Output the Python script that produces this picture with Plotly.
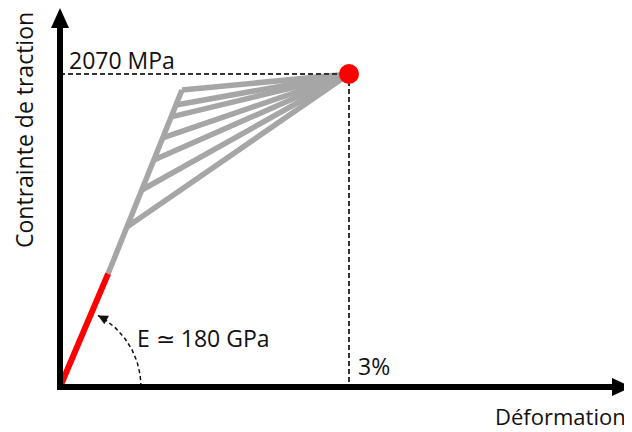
import numpy as np
import plotly.graph_objects as go

# ---- data (strain in %, stress in MPa) ----
elastic_strain = [0.0, 0.5]
elastic_stress = [0.0, 750.0]
# points on the gray loading path where fibres branch off (top vertex first)
branch_strain = [1.266, 1.204, 1.154, 1.066, 0.974, 0.849, 0.694]
branch_stress = [1964.0, 1865.0, 1786.0, 1647.0, 1501.0, 1303.0, 1058.0]
rupture_strain = 3.0
rupture_stress = 2070.0
modulus_label = "E \u2243 180 GPa"
stress_label = "2070 MPa"
strain_label = "3%"
x_title = "Déformation"
y_title = "Contrainte de traction"

# ---- geometry of the canvas ----
PAGE_MARGIN = 8                  # default body margin of the html page
W, H = 632 - PAGE_MARGIN, 432 - PAGE_MARGIN
ox_px, oy_px = 60 - PAGE_MARGIN, 387 - PAGE_MARGIN   # origin, in figure pixels
px_per_pct = 289 / 3.0
px_per_mpa = 313 / 2070.0
xr = [-ox_px / px_per_pct, (W - ox_px) / px_per_pct]
yr = [-(H - oy_px) / px_per_mpa, oy_px / px_per_mpa]

def dx(p):
    return p / px_per_pct

def dy(p):
    return p / px_per_mpa

FONT = "Open Sans"
GRAY = "#a6a6a6"
fig = go.Figure()

# gray loading path: from end of elastic part up through branch points to vertex
main_x = [elastic_strain[-1]] + branch_strain[::-1]
main_y = [elastic_stress[-1]] + branch_stress[::-1]
fig.add_trace(go.Scatter(x=main_x, y=main_y, mode="lines",
                         line=dict(color=GRAY, width=5.5), hoverinfo="skip"))
# branches to the rupture point
bx, by = [], []
for sx, sy in zip(branch_strain, branch_stress):
    bx += [sx, rupture_strain, None]
    by += [sy, rupture_stress, None]
fig.add_trace(go.Scatter(x=bx, y=by, mode="lines",
                         line=dict(color=GRAY, width=5.5), hoverinfo="skip"))

# dashed guides
fig.add_trace(go.Scatter(x=[0, rupture_strain, rupture_strain],
                         y=[rupture_stress, rupture_stress, 0], mode="lines",
                         line=dict(color="#333333", width=2, dash="5px,3px"),
                         hoverinfo="skip"))

# elastic part in red
fig.add_trace(go.Scatter(x=elastic_strain, y=elastic_stress, mode="lines",
                         line=dict(color="#ff0000", width=6), hoverinfo="skip"))

# rupture point
fig.add_trace(go.Scatter(x=[rupture_strain], y=[rupture_stress], mode="markers",
                         marker=dict(color="#ff0000", size=20), hoverinfo="skip"))

# dashed arc for the modulus
r_px = 81
th = np.radians(np.linspace(0, 62, 40))
fig.add_trace(go.Scatter(x=dx(r_px * np.cos(th)), y=dy(r_px * np.sin(th)), mode="lines",
                         line=dict(color="#111111", width=1.5, dash="4px,3px"),
                         hoverinfo="skip"))
te = th[-1]
fig.add_annotation(x=dx(r_px * np.cos(te)), y=dy(r_px * np.sin(te)), xref="x", yref="y",
                   text="", showarrow=True, arrowhead=2, arrowsize=1.3, arrowwidth=1.5,
                   arrowcolor="#111111", ax=np.sin(te) * 9, ay=np.cos(te) * 9, standoff=0)

# axes (thick black lines with arrowheads)
lw = 6
shapes = [
    dict(type="line", x0=0, y0=dy(-3), x1=0, y1=yr[1] - dy(18), xref="x", yref="y",
         line=dict(color="black", width=lw)),
    dict(type="line", x0=dx(-3), y0=0, x1=xr[1] - dx(18), y1=0, xref="x", yref="y",
         line=dict(color="black", width=lw)),
    dict(type="path", xref="x", yref="y", fillcolor="black", line=dict(width=0),
         path=f"M {dx(-9)},{yr[1]-dy(20)} L {dx(9)},{yr[1]-dy(20)} L 0,{yr[1]} Z"),
    dict(type="path", xref="x", yref="y", fillcolor="black", line=dict(width=0),
         path=f"M {xr[1]-dx(20)},{dy(-9)} L {xr[1]-dx(20)},{dy(9)} L {xr[1]},0 Z"),
]

tf = dict(family=FONT, size=23, color="#111111")
tf2 = dict(family=FONT, size=22, color="#111111")
fig.add_annotation(x=0, y=rupture_stress, xref="x", yref="y", text=stress_label,
                   showarrow=False, xanchor="left", yanchor="middle", xshift=7, yshift=14, font=tf)
fig.add_annotation(x=rupture_strain, y=0, xref="x", yref="y", text=strain_label,
                   showarrow=False, xanchor="left", yanchor="middle", xshift=7, yshift=21, font=tf)
fig.add_annotation(x=0, y=0, xref="x", yref="y", text=modulus_label,
                   showarrow=False, xanchor="left", yanchor="middle", xshift=75, yshift=49, font=tf)
fig.add_annotation(x=(24 - PAGE_MARGIN) / W, y=1 - (130 - PAGE_MARGIN) / H,
                   xref="paper", yref="paper", text=y_title,
                   textangle=-90, showarrow=False, xanchor="center", yanchor="middle", font=tf)
fig.add_annotation(x=(628 - PAGE_MARGIN) / W, y=1 - (416 - PAGE_MARGIN) / H,
                   xref="paper", yref="paper", text=x_title,
                   showarrow=False, xanchor="right", yanchor="middle", font=tf2)

fig.update_layout(width=W, height=H, margin=dict(l=0, r=0, t=0, b=0),
                  paper_bgcolor="white", plot_bgcolor="white", showlegend=False,
                  shapes=shapes,
                  xaxis=dict(range=xr, visible=False, fixedrange=True),
                  yaxis=dict(range=yr, visible=False, fixedrange=True))
fig.write_html("out.html")
